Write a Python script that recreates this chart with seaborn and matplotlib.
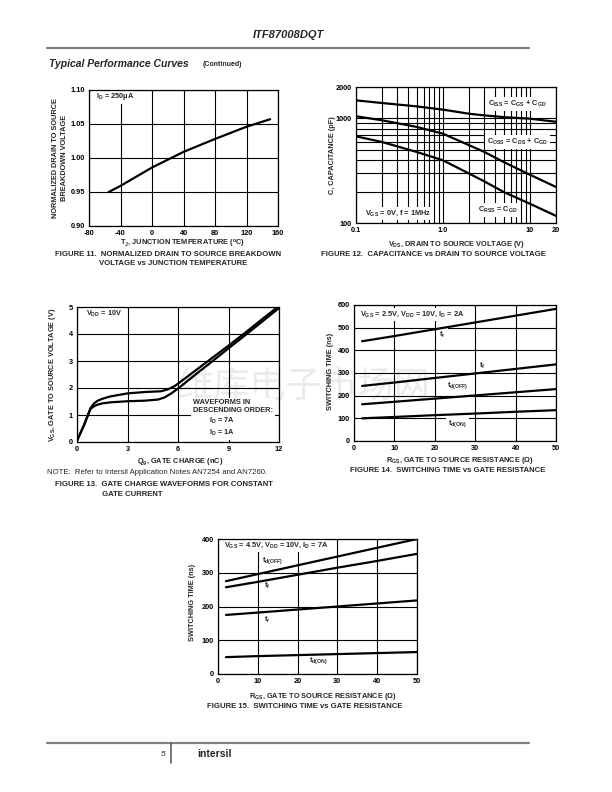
import seaborn as sns
import matplotlib.pyplot as plt
from matplotlib.ticker import NullFormatter

# Page geometry (pixels of the 612x792 sheet)
PAGE_W, PAGE_H = 612, 792

# Figure 11: normalized BVdss vs junction temperature
TEMP_C = [-55, -40, 0, 40, 80, 120, 150]
BVDSS_NORM = [0.950, 0.959, 0.986, 1.009, 1.028, 1.046, 1.057]

# Figure 12: capacitance vs Vds (log-log)
VDS_V = [0.1, 0.2, 0.5, 1.0, 2.0, 3.0, 5.0, 10.0, 20.0]
CISS_PF = [1490, 1405, 1305, 1215, 1110, 1070, 1030, 995, 930]
COSS_PF = [1050, 960, 830, 715, 555, 478, 383, 290, 221]
CRSS_PF = [675, 595, 478, 398, 297, 250, 198, 153, 117]

# Figure 13: gate charge waveforms
QG_7A = [0, 0.4, 0.8, 1.0, 1.2, 1.5, 2.0, 3.0, 4.0, 5.0, 5.4, 5.8, 6.0, 7, 8, 9, 10, 11, 12]
VGS_7A = [0.05, 0.6, 1.25, 1.42, 1.52, 1.6, 1.69, 1.8, 1.85, 1.88, 1.95, 2.07, 2.16,
          2.63, 3.1, 3.57, 4.05, 4.55, 5.04]
QG_1A = [0, 0.4, 0.8, 1.0, 1.2, 1.5, 2.0, 3.0, 4.0, 4.8, 5.2, 5.6, 6.0, 7, 8, 9, 10, 11, 12]
VGS_1A = [0.05, 0.6, 1.22, 1.32, 1.38, 1.43, 1.47, 1.51, 1.53, 1.57, 1.65, 1.8, 1.98,
          2.48, 2.97, 3.47, 3.96, 4.46, 4.96]

# Figures 14 / 15: switching time vs gate resistance
RGS_OHM = [2, 10, 20, 30, 40, 50]
F14_TR = [440, 463, 493, 523, 553, 583]
F14_TF = [243, 258, 278, 298, 318, 338]
F14_TDOFF = [162, 173, 187, 201, 215, 229]
F14_TDON = [100, 106, 114, 121, 129, 136]
F15_TDOFF = [275, 296, 322, 348, 374, 400]
F15_TF = [257, 273, 294, 315, 335, 356]
F15_TR = [175, 182, 191, 200, 209, 218]
F15_TDON = [50, 53, 56, 59, 62, 65]

sns.set_style("white")
plt.rcParams["font.family"] = ["Liberation Sans", "DejaVu Sans"]
plt.rcParams["font.weight"] = "bold"
plt.rcParams["axes.unicode_minus"] = False
plt.rcParams["mathtext.fontset"] = "custom"
plt.rcParams["mathtext.rm"] = "Liberation Sans:bold"
plt.rcParams["mathtext.it"] = "Liberation Sans:bold"
plt.rcParams["mathtext.bf"] = "Liberation Sans:bold"
plt.rcParams["mathtext.default"] = "rm"

FS = 5.3
CAP_FS = 5.6
LINE_W = 1.6
GRID_W = 0.8

fig = plt.figure(figsize=(6.12, 7.92), dpi=100)


def px_axes(x0, y0, x1, y1):
    # axes from page pixel box
    ax = fig.add_axes([x0 / PAGE_W, 1 - y1 / PAGE_H, (x1 - x0) / PAGE_W, (y1 - y0) / PAGE_H])
    ax.set_facecolor("none")
    for sp in ax.spines.values():
        sp.set_color("black")
        sp.set_linewidth(0.9)
        sp.set_zorder(6)
    ax.tick_params(length=0, pad=3, labelsize=FS, colors="black")
    ax.set_axisbelow(True)
    return ax


def page_text(x, y, s, **kw):
    kw.setdefault("fontsize", FS)
    kw.setdefault("va", "center")
    return fig.text(x / PAGE_W, 1 - y / PAGE_H, s, **kw)


def box_text(ax, x, y, s, **kw):
    # label with white backing that cuts the grid lines, curves stay on top
    kw.setdefault("fontsize", FS)
    kw.setdefault("va", "center")
    kw.setdefault("ha", "left")
    return ax.text(x, y, s, transform=ax.transAxes, zorder=3,
                   bbox=dict(facecolor="white", edgecolor="none", pad=1.5), **kw)


def curve(ax, x, y):
    sns.lineplot(x=x, y=y, ax=ax, color="black", lw=LINE_W, estimator=None, sort=False,
                 zorder=5)


def grid(ax, which="major"):
    ax.grid(True, which=which, color="black", lw=GRID_W)


# watermark behind the plots
page_text(304, 387, "维库电子市场网", ha="center", fontsize=26, color="#ebebeb",
          family=["Noto Sans CJK SC", "DejaVu Sans"], fontweight="normal", zorder=-1)

# header / footer
page_text(288, 35, "ITF87008DQT", ha="center", fontsize=8, style="italic")
fig.add_artist(plt.Line2D([47 / PAGE_W, 529 / PAGE_W], [1 - 47.5 / PAGE_H] * 2,
                          color="#808080", lw=1.6))
page_text(49, 64, "Typical Performance Curves", fontsize=7.5, style="italic")
page_text(203, 65, "(Continued)", fontsize=5)
fig.add_artist(plt.Line2D([47 / PAGE_W, 529 / PAGE_W], [1 - 743 / PAGE_H] * 2,
                          color="#808080", lw=1.6))
fig.add_artist(plt.Line2D([171 / PAGE_W] * 2, [1 - 743 / PAGE_H, 1 - 763 / PAGE_H],
                          color="#606060", lw=1.2))
page_text(165, 754, "5", ha="right", fontsize=6, style="italic", fontweight="normal")
page_text(197, 754, "intersil", fontsize=7.5)

# ---- Figure 11 ----
ax = px_axes(89, 90, 278, 226)
curve(ax, TEMP_C, BVDSS_NORM)
ax.set_xlim(-80, 160)
ax.set_ylim(0.90, 1.10)
ax.set_xticks([-80, -40, 0, 40, 80, 120, 160])
ax.set_yticks([0.90, 0.95, 1.00, 1.05, 1.10], labels=["0.90", "0.95", "1.00", "1.05", "1.10"])
grid(ax)
box_text(ax, 0.035, 0.955, "I$_D$ = 250μA")
page_text(60, 158, "NORMALIZED DRAIN TO SOURCE\nBREAKDOWN VOLTAGE", ha="center",
          rotation=90, linespacing=1.3)
page_text(183, 244, "T$_J$, JUNCTION TEMPERATURE ($^o$C)", ha="center")
page_text(55, 254, "FIGURE 11.  NORMALIZED DRAIN TO SOURCE BREAKDOWN", fontsize=CAP_FS)
page_text(99, 264, "VOLTAGE vs JUNCTION TEMPERATURE", fontsize=CAP_FS)

# ---- Figure 12 ----
ax = px_axes(356, 87, 556, 223)
ax.set_xscale("log")
ax.set_yscale("log")
curve(ax, VDS_V, CISS_PF)
curve(ax, VDS_V, COSS_PF)
curve(ax, VDS_V, CRSS_PF)
ax.set_xlim(0.1, 20)
ax.set_ylim(100, 2000)
ax.set_xticks([0.1, 1.0, 10, 20], labels=["0.1", "1.0", "10", "20"])
ax.set_xticks([0.2, 0.3, 0.4, 0.5, 0.6, 0.7, 0.8, 0.9, 2, 3, 4, 5, 6, 7, 8, 9], minor=True)
ax.set_yticks([100, 1000, 2000], labels=["100", "1000", "2000"])
ax.set_yticks([200, 300, 400, 500, 600, 700, 800, 900], minor=True)
ax.xaxis.set_minor_formatter(NullFormatter())
ax.yaxis.set_minor_formatter(NullFormatter())
ax.tick_params(which="minor", length=0)
grid(ax, "both")
box_text(ax, 0.662, 0.873, "C$_{ISS}$ = C$_{GS}$ + C$_{GD}$")
box_text(ax, 0.653, 0.596, "C$_{OSS}$ = C$_{DS}$ + C$_{GD}$")
box_text(ax, 0.612, 0.098, "C$_{RSS}$ = C$_{GD}$")
box_text(ax, 0.045, 0.069, "V$_{GS}$ = 0V, f = 1MHz")
page_text(333, 155, "C, CAPACITANCE (pF)", ha="center", rotation=90)
page_text(457, 244, "V$_{DS}$, DRAIN TO SOURCE VOLTAGE (V)", ha="center")
page_text(433, 254, "FIGURE 12.  CAPACITANCE vs DRAIN TO SOURCE VOLTAGE", ha="center",
          fontsize=CAP_FS)

# ---- Figure 13 ----
ax = px_axes(77, 307, 279, 442)
curve(ax, QG_7A, VGS_7A)
curve(ax, QG_1A, VGS_1A)
ax.set_xlim(0, 12)
ax.set_ylim(0, 5)
ax.set_xticks([0, 3, 6, 9, 12])
ax.set_yticks([0, 1, 2, 3, 4, 5])
grid(ax)
box_text(ax, 0.046, 0.946, "V$_{DD}$ = 10V")
box_text(ax, 0.575, 0.175,
         "WAVEFORMS IN\nDESCENDING ORDER:\n        I$_D$ = 7A\n        I$_D$ = 1A",
         linespacing=1.25)
page_text(53, 375, "V$_{GS}$, GATE TO SOURCE VOLTAGE (V)", ha="center", rotation=90)
page_text(180, 462, "Q$_g$, GATE CHARGE (nC)", ha="center")
page_text(47, 473, "NOTE:  Refer to Intersil Application Notes AN7254 and AN7260.",
          fontsize=CAP_FS, fontweight="normal")
page_text(55, 484, "FIGURE 13.  GATE CHARGE WAVEFORMS FOR CONSTANT", fontsize=CAP_FS)
page_text(102, 494, "GATE CURRENT", fontsize=CAP_FS)

# ---- Figure 14 ----
ax = px_axes(354, 305, 556, 441)
for series in (F14_TR, F14_TF, F14_TDOFF, F14_TDON):
    curve(ax, RGS_OHM, series)
ax.set_xlim(0, 50)
ax.set_ylim(0, 600)
ax.set_xticks([0, 10, 20, 30, 40, 50])
ax.set_yticks([0, 100, 200, 300, 400, 500, 600])
grid(ax)
box_text(ax, 0.028, 0.931, "V$_{GS}$ = 2.5V, V$_{DD}$ = 10V, I$_D$ = 2A")
box_text(ax, 0.421, 0.779, "t$_r$")
box_text(ax, 0.62, 0.553, "t$_f$")
box_text(ax, 0.458, 0.405, "t$_{d(OFF)}$")
box_text(ax, 0.466, 0.128, "t$_{d(ON)}$")
page_text(330, 371, "SWITCHING TIME (ns)", ha="center", rotation=90)
page_text(460, 461, "R$_{GS}$, GATE TO SOURCE RESISTANCE (Ω)", ha="center")
page_text(448, 471, "FIGURE 14.  SWITCHING TIME vs GATE RESISTANCE", ha="center",
          fontsize=CAP_FS)

# ---- Figure 15 ----
ax = px_axes(218, 539, 417, 674)
for series in (F15_TDOFF, F15_TF, F15_TR, F15_TDON):
    curve(ax, RGS_OHM, series)
ax.set_xlim(0, 50)
ax.set_ylim(0, 400)
ax.set_xticks([0, 10, 20, 30, 40, 50])
ax.set_yticks([0, 100, 200, 300, 400])
grid(ax)
box_text(ax, 0.028, 0.951, "V$_{GS}$ = 4.5V, V$_{DD}$ = 10V, I$_D$ = 7A")
box_text(ax, 0.221, 0.84, "t$_{d(OFF)}$")
box_text(ax, 0.229, 0.649, "t$_f$")
box_text(ax, 0.229, 0.402, "t$_r$")
box_text(ax, 0.456, 0.099, "t$_{d(ON)}$")
page_text(193, 602, "SWITCHING TIME (ns)", ha="center", rotation=90)
page_text(323, 696, "R$_{GS}$, GATE TO SOURCE RESISTANCE (Ω)", ha="center")
page_text(305, 706, "FIGURE 15.  SWITCHING TIME vs GATE RESISTANCE", ha="center",
          fontsize=CAP_FS)

fig.savefig("out.png", dpi=100, facecolor="white")
